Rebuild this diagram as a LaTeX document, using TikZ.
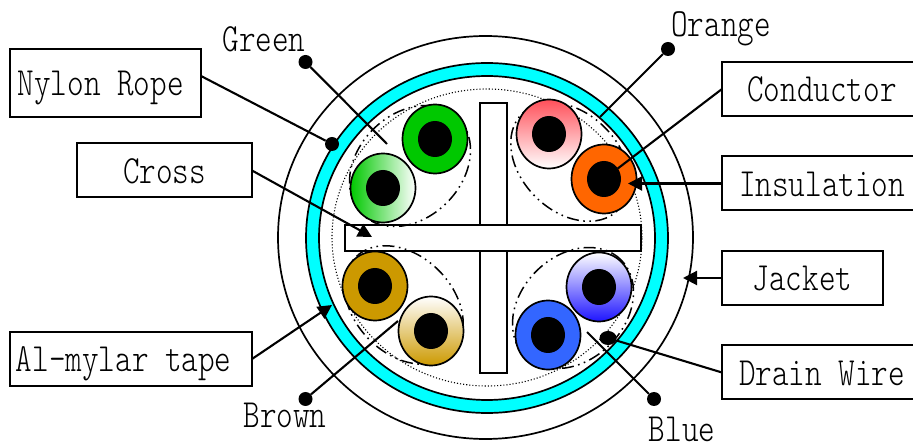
\documentclass[tikz,border=0pt]{standalone}
\usepackage{fontspec}
\usepackage{xcolor}
\usepackage{tikz}
\usetikzlibrary{positioning,arrows.meta,shapes.geometric}
\newfontfamily\lblfont[FakeStretch=0.79]{Latin Modern Mono Light}
\definecolor{tapecyan}{RGB}{0,255,255}
\definecolor{wgreen}{RGB}{0,200,0}
\definecolor{worange}{RGB}{255,102,0}
\definecolor{wbrown}{RGB}{204,153,0}
\definecolor{wblue}{RGB}{51,102,255}
\definecolor{wpink}{RGB}{255,80,90}
\definecolor{wdeep}{RGB}{30,20,255}

\begin{document}
\begin{tikzpicture}[
  x=1pt,y=-1pt,
  font=\lblfont\fontsize{40}{40}\selectfont,
  labelbox/.style={draw,line width=2pt,fill=white,outer sep=0pt,inner sep=0pt,text height=26pt,text depth=0pt,minimum height=54pt},
  colourname/.style={anchor=base,inner sep=0pt},
  ring/.style={draw,ellipse,line width=1.7pt,inner sep=0pt,outer sep=0pt},
  wire/.style={ring,minimum width=65pt,minimum height=69pt},
  core/.style={ellipse,fill=black,inner sep=0pt,outer sep=0pt,minimum width=34pt,minimum height=36pt},
  pair/.style={draw,ellipse,line width=1.5pt,inner sep=0pt,dash pattern=on 12pt off 4.5pt on 1.6pt off 4.5pt on 1.6pt off 4.5pt,minimum width=136pt},
  bar/.style={draw,line width=1.9pt,fill=white,inner sep=0pt,outer sep=0pt},
  pin/.style={circle,fill=black,inner sep=0pt,minimum size=14pt},
  lead/.style={line width=2.1pt},
  >={Triangle[length=14pt,width=14pt]},
]
\useasboundingbox (0,0) rectangle (913,443);

% cable jacket and tape
\node[ring,minimum width=415pt,minimum height=403pt] (jacketring) at (485.5,237.5) {};
\node[ring,fill=tapecyan,minimum width=362pt,minimum height=350pt] (tapeouter) at (487,238) {};
\node[ring,fill=white,minimum width=336pt,minimum height=324pt] (tapeinner) at (487,238) {};
\node[ellipse,draw,dotted,line width=1.1pt,inner sep=0pt,minimum width=310pt,minimum height=297pt] (shield) at (487,237.5) {};

% cross filler
\node[bar,minimum width=27pt,minimum height=270pt] (crossv) at (493.5,238) {};
\node[bar,minimum width=296pt,minimum height=26pt] (crossh) at (493,238) {};

% twisted pairs
\node[pair,minimum height=104pt,rotate=45] (pairgreen) at (410,166) {};
\node[pair,minimum height=98pt,rotate=-45] (pairorange) at (570,162) {};
\node[pair,minimum height=98pt,rotate=-45] (pairbrown) at (404,305) {};
\node[pair,minimum height=104pt,rotate=45] (pairblue) at (573,308) {};

% wires
\node[wire,fill=wgreen] (green) at (435,139) {};
\node[wire,left color=wgreen,middle color=wgreen!25!white,right color=white] (greenw) at (383,188) {};
\node[wire,top color=wpink,bottom color=white] (orangew) at (549,134) {};
\node[wire,fill=worange] (orange) at (604,179) {};
\node[wire,fill=wbrown] (brown) at (375,286) {};
\node[wire,top color=white,bottom color=wbrown] (brownw) at (431,331) {};
\node[wire,top color=white,bottom color=wdeep] (bluew) at (599,287) {};
\node[wire,fill=wblue] (blue) at (548,335) {};
\node[core] (greencore) at (green) {};
\node[core] (greenwcore) at (greenw) {};
\node[core] (orangewcore) at (orangew) {};
\node[core] (orangecore) at (orange) {};
\node[core] (browncore) at (brown) {};
\node[core] (brownwcore) at (brownw) {};
\node[core] (bluewcore) at (bluew) {};
\node[core] (bluecore) at (blue) {};

% left boxes
\node[labelbox,minimum width=191.5pt,minimum height=68pt,anchor=north west] (rope) at (9.5,49) {\hspace*{-9pt}Nylon Rope};
\node[labelbox,minimum width=175pt,anchor=north west] (cross) at (77,143.5) {Cross};
\node[labelbox,minimum width=242.5pt,anchor=north west] (mylar) at (9.5,332) {\hspace*{-14pt}Al-mylar tape};

% right boxes
\node[labelbox,minimum width=200pt,anchor=north west] (conductor) at (722,62) {Conductor};
\node[labelbox,minimum width=200pt,below=40.5pt of conductor] (insulation) {Insulation};
\node[labelbox,minimum width=161pt,below=40.5pt of insulation.south west,anchor=north west] (jacket) {Jacket};
\node[labelbox,minimum width=200pt,below=40.5pt of jacket.south west,anchor=north west] (drain) {Drain Wire};

% colour names
\node[colourname] (greenname) at (264,52) {Green};
\node[colourname] (orangename) at (721,37) {Orange};
\node[colourname] (brownname) at (285,428) {Brown};
\node[colourname] (bluename) at (682,441) {Blue};

% pins
\node[pin] (greenpin) at (305.5,62) {};
\node[pin] (orangepin) at (668,49) {};
\node[pin] (brownpin) at (305.5,399) {};
\node[pin] (bluepin) at (654,399) {};
\node[pin] (ropepin) at (332,144) {};
\node[pin,ellipse,minimum width=17pt,minimum height=14pt] (drainpin) at (608,338) {};

\coordinate (greenend) at (387,144);
\coordinate (orangeend) at (600,117);
\coordinate (brownend) at (398,321);
\coordinate (blueend) at (587,332);
\coordinate (crosstip) at (372,237);
\coordinate (mylartip) at (332,305);
\coordinate (insultip) at (628,183.5);
\coordinate (jackettip) at (683,278);

% leads
\draw[lead] (greenpin) -- (greenend);
\draw[lead] (orangepin) -- (orangeend);
\draw[lead] (brownpin) -- (brownend);
\draw[lead] (bluepin) -- (blueend);
\draw[lead] ([yshift=7pt]rope.east) -- (ropepin);
\draw[lead,->] (cross.east) -- (crosstip);
\draw[lead,->] (mylar.east) -- (mylartip);
\draw[lead] (conductor.west) -- (orangecore);
\draw[lead,->] (insulation.west) -- (insultip);
\draw[lead,->] (jacket.west) -- (jackettip);
\draw[lead] (drain.west) -- (drainpin);
\end{tikzpicture}
\end{document}
